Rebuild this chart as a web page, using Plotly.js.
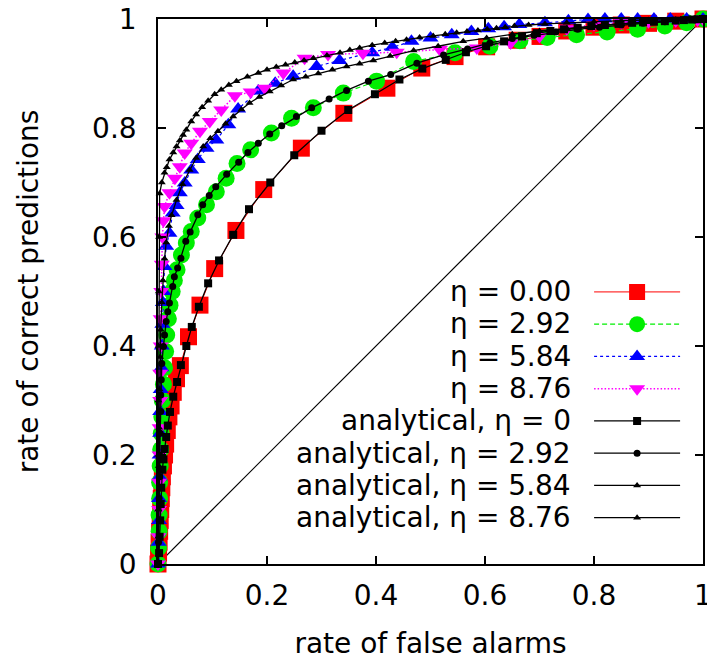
<!DOCTYPE html>
<html>
<head>
<meta charset="utf-8">
<script src="https://cdn.plot.ly/plotly-3.0.1.min.js"></script>
<style>html,body{margin:0;padding:0;background:#fff;}</style>
</head>
<body>
<div id="chart" style="width:707px;height:660px;"></div>
<script>
// ---- data ----
const seriesNames = ["η = 0.00", "η = 2.92", "η = 5.84", "η = 8.76",
  "analytical, η = 0", "analytical, η = 2.92", "analytical, η = 5.84", "analytical, η = 8.76"];

const sim0_x = [0, 0.001, 0.002, 0.003, 0.004, 0.005, 0.006, 0.007, 0.008, 0.010, 0.012, 0.014, 0.017, 0.020, 0.024, 0.028, 0.034, 0.041, 0.056, 0.077, 0.104, 0.143, 0.194, 0.263, 0.341, 0.420, 0.484, 0.545, 0.603, 0.659, 0.701, 0.75, 0.80, 0.85, 0.90, 0.95, 1.0];
const sim0_y = [0, 0.02, 0.04, 0.06, 0.08, 0.10, 0.12, 0.14, 0.16, 0.18, 0.20, 0.22, 0.245, 0.27, 0.29, 0.315, 0.34, 0.364, 0.417, 0.475, 0.542, 0.612, 0.687, 0.763, 0.827, 0.873, 0.910, 0.931, 0.949, 0.961, 0.968, 0.978, 0.985, 0.989, 0.992, 0.996, 1.0];

const sim1_x = [0, 0.001, 0.002, 0.002, 0.003, 0.003, 0.004, 0.005, 0.006, 0.007, 0.008, 0.010, 0.012, 0.014, 0.016, 0.019, 0.022, 0.026, 0.030, 0.035, 0.043, 0.052, 0.061, 0.073, 0.089, 0.107, 0.125, 0.145, 0.170, 0.208, 0.245, 0.285, 0.340, 0.401, 0.469, 0.545, 0.609, 0.664, 0.714, 0.768, 0.824, 0.88, 0.93, 0.97, 1.0];
const sim1_y = [0, 0.03, 0.06, 0.09, 0.12, 0.15, 0.18, 0.21, 0.24, 0.27, 0.30, 0.33, 0.36, 0.39, 0.42, 0.45, 0.475, 0.50, 0.52, 0.54, 0.567, 0.589, 0.610, 0.635, 0.659, 0.683, 0.708, 0.735, 0.760, 0.791, 0.818, 0.837, 0.864, 0.886, 0.922, 0.938, 0.950, 0.960, 0.966, 0.971, 0.976, 0.981, 0.987, 0.993, 1.0];

const sim2_x = [0, 0.001, 0.002, 0.002, 0.003, 0.003, 0.004, 0.004, 0.005, 0.006, 0.007, 0.008, 0.009, 0.010, 0.012, 0.015, 0.021, 0.027, 0.034, 0.040, 0.049, 0.061, 0.073, 0.089, 0.107, 0.129, 0.147, 0.184, 0.215, 0.248, 0.291, 0.333, 0.393, 0.430, 0.465, 0.500, 0.539, 0.575, 0.606, 0.635, 0.663, 0.710, 0.753, 0.789, 0.82, 0.85, 0.88, 0.91, 0.94, 0.97, 1.0];
const sim2_y = [0, 0.04, 0.08, 0.12, 0.16, 0.20, 0.24, 0.28, 0.32, 0.36, 0.40, 0.44, 0.48, 0.50, 0.546, 0.583, 0.607, 0.644, 0.658, 0.681, 0.699, 0.723, 0.742, 0.763, 0.778, 0.806, 0.835, 0.868, 0.882, 0.895, 0.913, 0.924, 0.938, 0.948, 0.959, 0.965, 0.971, 0.977, 0.982, 0.986, 0.990, 0.993, 0.997, 0.999, 1, 1, 1, 1, 1, 1, 1];

const sim3_x = [0, 0.001, 0.002, 0.002, 0.003, 0.003, 0.004, 0.004, 0.005, 0.005, 0.006, 0.007, 0.008, 0.010, 0.012, 0.021, 0.031, 0.040, 0.049, 0.061, 0.077, 0.095, 0.116, 0.141, 0.170, 0.196, 0.230, 0.269, 0.312, 0.376, 0.438, 0.517, 0.585, 0.647, 0.70, 0.75, 0.80, 0.85, 0.90, 0.95, 0.99, 1.0];
const sim3_y = [0, 0.05, 0.10, 0.15, 0.20, 0.25, 0.30, 0.35, 0.40, 0.45, 0.50, 0.55, 0.60, 0.63, 0.656, 0.681, 0.708, 0.729, 0.754, 0.772, 0.794, 0.812, 0.833, 0.859, 0.866, 0.873, 0.901, 0.928, 0.935, 0.937, 0.939, 0.944, 0.947, 0.956, 0.968, 0.982, 0.990, 0.993, 0.995, 0.997, 0.998, 1.0];

const ana0_x = [0, 0.002, 0.003, 0.004, 0.005, 0.006, 0.008, 0.010, 0.012, 0.015, 0.018, 0.022, 0.028, 0.035, 0.042, 0.052, 0.062, 0.075, 0.092, 0.112, 0.138, 0.167, 0.206, 0.250, 0.300, 0.349, 0.398, 0.443, 0.485, 0.528, 0.565, 0.602, 0.635, 0.668, 0.695, 0.72, 0.745, 0.77, 0.795, 0.82, 0.845, 0.87, 0.89, 0.91, 0.93, 0.95, 0.965, 0.98, 0.99, 1.0];
const ana0_y = [0, 0.02, 0.05, 0.08, 0.11, 0.14, 0.173, 0.192, 0.211, 0.233, 0.254, 0.279, 0.307, 0.334, 0.365, 0.400, 0.435, 0.472, 0.515, 0.557, 0.604, 0.651, 0.700, 0.750, 0.795, 0.833, 0.862, 0.889, 0.909, 0.925, 0.939, 0.950, 0.959, 0.968, 0.974, 0.978, 0.981, 0.984, 0.987, 0.989, 0.991, 0.993, 0.994, 0.995, 0.996, 0.997, 0.998, 0.999, 0.9995, 1.0];

const ana1_x = [0, 0.001, 0.002, 0.002, 0.003, 0.003, 0.004, 0.005, 0.005, 0.006, 0.007, 0.010, 0.012, 0.015, 0.018, 0.021, 0.027, 0.030, 0.036, 0.042, 0.051, 0.059, 0.073, 0.082, 0.094, 0.106, 0.126, 0.148, 0.165, 0.184, 0.205, 0.227, 0.254, 0.282, 0.314, 0.346, 0.386, 0.427, 0.475, 0.524, 0.568, 0.609, 0.65, 0.69, 0.73, 0.77, 0.81, 0.85, 0.89, 0.93, 0.965, 1.0];
const ana1_y = [0, 0.04, 0.08, 0.12, 0.16, 0.20, 0.24, 0.28, 0.31, 0.338, 0.368, 0.399, 0.420, 0.445, 0.463, 0.479, 0.509, 0.527, 0.543, 0.561, 0.592, 0.609, 0.641, 0.659, 0.676, 0.692, 0.715, 0.737, 0.755, 0.772, 0.789, 0.804, 0.821, 0.837, 0.853, 0.869, 0.886, 0.898, 0.919, 0.934, 0.945, 0.956, 0.964, 0.970, 0.976, 0.981, 0.985, 0.989, 0.992, 0.995, 0.998, 1.0];

const ana2_x = [0, 0.0005, 0.001, 0.0015, 0.002, 0.003, 0.004, 0.005, 0.007, 0.009, 0.012, 0.015, 0.020, 0.025, 0.034, 0.045, 0.058, 0.070, 0.083, 0.096, 0.110, 0.124, 0.138, 0.153, 0.168, 0.186, 0.205, 0.226, 0.248, 0.271, 0.294, 0.320, 0.346, 0.370, 0.395, 0.426, 0.469, 0.514, 0.560, 0.603, 0.65, 0.70, 0.75, 0.80, 0.85, 0.90, 0.95, 1.0];
const ana2_y = [0, 0.05, 0.10, 0.18, 0.25, 0.32, 0.38, 0.43, 0.48, 0.52, 0.56, 0.59, 0.62, 0.64, 0.668, 0.697, 0.723, 0.745, 0.766, 0.781, 0.794, 0.808, 0.821, 0.834, 0.846, 0.857, 0.867, 0.878, 0.889, 0.894, 0.900, 0.907, 0.913, 0.918, 0.924, 0.932, 0.942, 0.950, 0.959, 0.965, 0.972, 0.978, 0.983, 0.987, 0.991, 0.994, 0.997, 1.0];

const ana3_x = [0, 0.0003, 0.0005, 0.0008, 0.001, 0.0015, 0.002, 0.003, 0.007, 0.012, 0.016, 0.021, 0.028, 0.034, 0.040, 0.046, 0.052, 0.061, 0.070, 0.081, 0.092, 0.104, 0.116, 0.130, 0.144, 0.164, 0.184, 0.200, 0.217, 0.234, 0.251, 0.268, 0.285, 0.310, 0.334, 0.352, 0.370, 0.393, 0.416, 0.436, 0.456, 0.480, 0.505, 0.527, 0.548, 0.567, 0.587, 0.604, 0.621, 0.637, 0.654, 0.68, 0.71, 0.75, 0.80, 0.85, 0.90, 0.95, 1.0];
const ana3_y = [0, 0.10, 0.20, 0.30, 0.40, 0.50, 0.60, 0.68, 0.70, 0.718, 0.728, 0.742, 0.755, 0.766, 0.777, 0.787, 0.797, 0.812, 0.825, 0.838, 0.850, 0.862, 0.870, 0.879, 0.886, 0.894, 0.901, 0.907, 0.912, 0.916, 0.920, 0.924, 0.928, 0.933, 0.938, 0.943, 0.947, 0.952, 0.956, 0.959, 0.962, 0.966, 0.969, 0.972, 0.975, 0.977, 0.979, 0.981, 0.983, 0.985, 0.987, 0.989, 0.991, 0.993, 0.995, 0.997, 0.998, 0.999, 1.0];

const diag_x = [0, 1];
const diag_y = [0, 1];

const xTicks = [0, 0.2, 0.4, 0.6, 0.8, 1];
const yTicks = [0, 0.2, 0.4, 0.6, 0.8, 1];
const xTickText = ["0", "0.2", "0.4", "0.6", "0.8", "1"];
const yTickText = ["0", "0.2", "0.4", "0.6", "0.8", "1"];

// ---- styles ----
const FONT = "DejaVu Sans, Liberation Sans, Arial, sans-serif";
function tr(x, y, color, dash, width, symbol, size) {
  return {
    x: x, y: y, type: "scatter", mode: "lines+markers", name: " ",
    cliponaxis: false,
    line: {color: color, dash: dash, width: width},
    marker: {symbol: symbol, size: size, color: color, line: {width: 0}}
  };
}

const data = [
  {x: diag_x, y: diag_y, type: "scatter", mode: "lines", showlegend: false,
   line: {color: "#000", width: 1.2}, hoverinfo: "skip"},
  tr(sim0_x, sim0_y, "#ff0000", "solid", 1, "square", 17),
  tr(sim1_x, sim1_y, "#00ee00", "5px,3px", 1.2, "circle", 17),
  tr(sim2_x, sim2_y, "#0000ff", "3px,3px", 1.2, "triangle-up", 14),
  tr(sim3_x, sim3_y, "#ff00ff", "1.5px,2px", 1.5, "triangle-down", 14),
  tr(ana0_x, ana0_y, "#000000", "solid", 1.3, "square", 8),
  tr(ana1_x, ana1_y, "#000000", "solid", 1.3, "circle", 7),
  tr(ana2_x, ana2_y, "#000000", "solid", 1.3, "triangle-up", 7),
  tr(ana3_x, ana3_y, "#000000", "solid", 1.3, "triangle-up", 7)
];

// legend text as right-aligned annotations next to the legend samples
const legTop = 0.4999, legStep = 0.05935;
const annotations = seriesNames.map((t, i) => ({
  text: t, xref: "paper", yref: "paper", x: 0.762, y: legTop - i * legStep,
  xanchor: "right", yanchor: "middle", showarrow: false,
  font: {family: FONT, size: 28, color: "#000"}
}));

const axisCommon = {
  range: [0, 1], showgrid: false, zeroline: false,
  showline: true, linecolor: "#000", linewidth: 1.8, mirror: "allticks",
  ticks: "inside", ticklen: 8, tickwidth: 1.3, tickcolor: "#000",
  tickfont: {family: FONT, size: 28, color: "#000"},
  ticklabeloverflow: "allow",
  fixedrange: true
};

const layout = {
  width: 707, height: 660,
  margin: {l: 158, r: 4, t: 19, b: 96, pad: 0},
  paper_bgcolor: "#fff", plot_bgcolor: "#fff",
  font: {family: FONT, color: "#000"},
  showlegend: true,
  legend: {
    x: 0.791, y: 0.538, xanchor: "left", yanchor: "top",
    bgcolor: "rgba(0,0,0,0)", borderwidth: 0,
    font: {family: FONT, size: 22.5, color: "#000"},
    itemwidth: 86, tracegroupgap: 0, traceorder: "normal", itemclick: false
  },
  xaxis: Object.assign({}, axisCommon, {
    tickvals: xTicks, ticktext: xTickText, ticklabelstandoff: 6,
    title: {text: "rate of false alarms", font: {family: FONT, size: 28, color: "#000"}, standoff: 22}
  }),
  yaxis: Object.assign({}, axisCommon, {
    tickvals: yTicks, ticktext: yTickText, ticklabelstandoff: 14,
    title: {text: "rate of correct predictions", font: {family: FONT, size: 28, color: "#000"}, standoff: 45}
  }),
  annotations: annotations
};

Plotly.newPlot("chart", data, layout, {staticPlot: true, displayModeBar: false});
</script>
</body>
</html>
